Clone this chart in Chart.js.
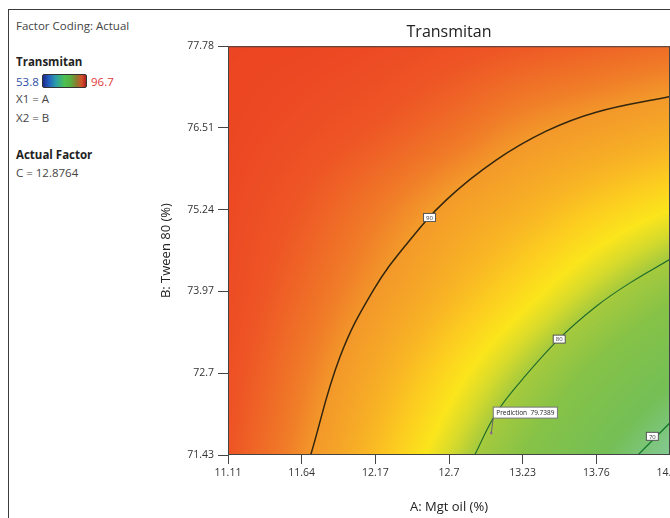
<!DOCTYPE html>
<html>
<head>
<meta charset="utf-8">
<script src="https://cdn.jsdelivr.net/npm/chart.js@4/dist/chart.umd.min.js"></script>
<style>
  html, body { margin: 0; padding: 0; background: #fff; }
  body { width: 670px; height: 518px; overflow: hidden; position: relative; font-family: "Open Sans", sans-serif; }
  #frame { position: absolute; left: 8px; top: 9px; width: 700px; height: 600px; border: 1.5px solid #3c3c3c; box-sizing: border-box; }
  #wrap { position: absolute; left: 0; top: 0; width: 700px; height: 518px; }
  .side { position: absolute; left: 16px; font-size: 11.5px; color: #444; line-height: 16px; white-space: nowrap; }
  .side b { color: #222; }
  #bar { position: absolute; left: 42px; top: 74px; width: 45px; height: 14px; border: 1px solid #333; border-radius: 2px; box-sizing: border-box;
    background: linear-gradient(to right, #1a2a8c, #2460c0 14%, #2a9ea8 30%, #4cc050 50%, #58b040 64%, #8a7a30 78%, #d45028 90%, #a82020); }
</style>
</head>
<body>
<div id="frame"></div>
<div class="side" style="top:18px">Factor Coding: Actual</div>
<div class="side" style="top:54px"><b>Transmitan</b></div>
<div class="side" style="top:74px;color:#2d4fa6">53.8</div>
<div id="bar"></div>
<div class="side" style="top:74px;left:91px;color:#e23a3a">96.7</div>
<div class="side" style="top:91px">X1 = A</div>
<div class="side" style="top:110px">X2 = B</div>
<div class="side" style="top:147px"><b>Actual Factor</b></div>
<div class="side" style="top:165px">C = 12.8764</div>
<div id="wrap"><canvas id="contour"></canvas></div>
<script>
// axis ticks (A: Mgt oil, B: Tween 80)
var xTicks = [11.11, 11.64, 12.17, 12.7, 13.23, 13.76, 14.29];
var xTickLabels = ["11.11", "11.64", "12.17", "12.7", "13.23", "13.76", "14.29"];
var yTicks = [71.43, 72.7, 73.97, 75.24, 76.51, 77.78];
var yTickLabels = ["71.43", "72.7", "73.97", "75.24", "76.51", "77.78"];

// Transmitan read at each tick crossing, one row per B tick (bottom to top)
var surfRow1 = [94.6, 90.6, 86.1, 81.5, 77.0, 72.5, 68.0];
var surfRow2 = [95.2, 91.7, 87.9, 84.0, 80.2, 76.4, 72.8];
var surfRow3 = [95.8, 93.0, 90.0, 86.9, 83.9, 80.8, 77.9];
var surfRow4 = [96.1, 94.2, 91.8, 89.3, 87.2, 85.0, 83.0];
var surfRow5 = [96.5, 95.5, 94.3, 92.6, 90.6, 89.3, 88.0];
var surfRow6 = [96.7, 96.5, 96.0, 95.2, 94.3, 93.5, 92.7];
var surface = [surfRow1, surfRow2, surfRow3, surfRow4, surfRow5, surfRow6];

// contour lines
var contour90 = [[11.705, 71.43], [11.916, 72.955], [12.156, 73.99], [12.40, 74.72], [12.685, 75.40],
  [13.039, 76.01], [13.399, 76.46], [13.759, 76.755], [14.29, 77.00]];
var contour80 = [[12.88, 71.41], [13.04, 72.08], [13.23, 72.61], [13.49, 73.23], [13.76, 73.74],
  [14.00, 74.10], [14.29, 74.47]];
var contour70 = [[14.05, 71.41], [14.29, 71.93]];
var contourLevels = ["90", "80", "70"];
var contourLabelAt = [[12.56, 75.12], [13.493, 73.23], [14.163, 71.72]];

// flagged prediction
var predictionPoint = [13.004, 71.77];
var predictionText = "Prediction  79.7389";

var colorStops = [
  [53.8, "#2b3a9e"], [60, "#2f8fc9"], [66, "#7ecba0"], [69, "#80c786"], [72, "#74bf56"],
  [77, "#86c247"], [80, "#a6ca3d"], [81.5, "#d6da2c"], [83, "#fbe51c"], [85, "#fccc20"],
  [86.5, "#f9b824"], [88, "#f6a927"], [90, "#f3982a"], [91.5, "#f07d28"], [94.5, "#ee5525"],
  [96.7, "#ec4523"]
];

function hexToRgb(h) {
  return [parseInt(h.substr(1, 2), 16), parseInt(h.substr(3, 2), 16), parseInt(h.substr(5, 2), 16)];
}
var stopRgb = colorStops.map(function (s) { return [s[0], hexToRgb(s[1])]; });

function colorFor(v) {
  if (v <= stopRgb[0][0]) return stopRgb[0][1];
  for (var i = 1; i < stopRgb.length; i++) {
    if (v <= stopRgb[i][0]) {
      var a = stopRgb[i - 1], b = stopRgb[i];
      var t = (v - a[0]) / (b[0] - a[0]);
      return [a[1][0] + (b[1][0] - a[1][0]) * t, a[1][1] + (b[1][1] - a[1][1]) * t, a[1][2] + (b[1][2] - a[1][2]) * t];
    }
  }
  return stopRgb[stopRgb.length - 1][1];
}

function pick(arr, i) {
  var n = arr.length;
  if (i < 0) return 2 * arr[0] - arr[1];
  if (i >= n) return 2 * arr[n - 1] - arr[n - 2];
  return arr[i];
}

function cubic(arr, u) {
  var i = Math.floor(u);
  if (i > arr.length - 2) i = arr.length - 2;
  if (i < 0) i = 0;
  var t = u - i;
  var p0 = pick(arr, i - 1), p1 = pick(arr, i), p2 = pick(arr, i + 1), p3 = pick(arr, i + 2);
  return 0.5 * ((2 * p1) + (-p0 + p2) * t + (2 * p0 - 5 * p1 + 4 * p2 - p3) * t * t + (-p0 + 3 * p1 - 3 * p2 + p3) * t * t * t);
}

function gridIndex(ticks, v) {
  var step = (ticks[ticks.length - 1] - ticks[0]) / (ticks.length - 1);
  return (v - ticks[0]) / step;
}

var surfacePlugin = {
  id: "surface",
  beforeDatasetsDraw: function (chart) {
    var area = chart.chartArea;
    var xs = chart.scales.x, ys = chart.scales.y;
    var w = Math.round(area.right - area.left), h = Math.round(area.bottom - area.top);
    var ctx = chart.ctx;
    var img = ctx.createImageData(w, h);
    for (var r = 0; r < h; r++) {
      var yv = ys.getValueForPixel(area.top + r + 0.5);
      var vu = gridIndex(yTicks, yv);
      var rowVals = [];
      for (var c = 0; c < xTicks.length; c++) {
        var col = surface.map(function (row) { return row[c]; });
        rowVals.push(cubic(col, vu));
      }
      for (var px = 0; px < w; px++) {
        var xv = xs.getValueForPixel(area.left + px + 0.5);
        var val = cubic(rowVals, gridIndex(xTicks, xv));
        var rgb = colorFor(val);
        var k = (r * w + px) * 4;
        img.data[k] = rgb[0];
        img.data[k + 1] = rgb[1];
        img.data[k + 2] = rgb[2];
        img.data[k + 3] = 255;
      }
    }
    ctx.putImageData(img, Math.round(area.left), Math.round(area.top));
  },
  afterDatasetsDraw: function (chart) {
    var ctx = chart.ctx;
    var xs = chart.scales.x, ys = chart.scales.y;
    var area = chart.chartArea;
    ctx.save();
    ctx.beginPath();
    ctx.rect(area.left, area.top, area.right - area.left, area.bottom - area.top);
    ctx.clip();

    // contour level tags
    ctx.font = "6px 'Open Sans', sans-serif";
    ctx.textAlign = "center";
    ctx.textBaseline = "middle";
    for (var i = 0; i < contourLabelAt.length; i++) {
      var lx = xs.getPixelForValue(contourLabelAt[i][0]);
      var ly = ys.getPixelForValue(contourLabelAt[i][1]);
      ctx.fillStyle = "#fff";
      ctx.strokeStyle = "#555";
      ctx.lineWidth = 1;
      ctx.fillRect(lx - 6, ly - 4, 12, 8);
      ctx.strokeRect(lx - 6, ly - 4, 12, 8);
      ctx.fillStyle = "#333";
      ctx.fillText(contourLevels[i], lx, ly + 0.5);
    }

    // prediction flag
    var ppx = xs.getPixelForValue(predictionPoint[0]);
    var ppy = ys.getPixelForValue(predictionPoint[1]);
    ctx.strokeStyle = "#666";
    ctx.lineWidth = 1;
    ctx.beginPath();
    ctx.moveTo(ppx, ppy);
    ctx.lineTo(ppx + 2, ppy - 15);
    ctx.stroke();
    ctx.fillStyle = "#8a6a8a";
    ctx.beginPath();
    ctx.arc(ppx, ppy, 1.3, 0, Math.PI * 2);
    ctx.fill();
    ctx.font = "6.5px 'Open Sans', sans-serif";
    ctx.textAlign = "left";
    var tw = ctx.measureText(predictionText).width;
    ctx.fillStyle = "#fff";
    ctx.strokeStyle = "#777";
    ctx.fillRect(ppx + 2, ppy - 26, tw + 6, 11);
    ctx.strokeRect(ppx + 2, ppy - 26, tw + 6, 11);
    ctx.fillStyle = "#222";
    ctx.fillText(predictionText, ppx + 5, ppy - 20);
    ctx.restore();

    ctx.strokeStyle = "#444";
    ctx.lineWidth = 1;
    ctx.strokeRect(area.left + 0.5, area.top + 0.5, area.right - area.left - 1, area.bottom - area.top - 1);
  }
};

function toPoints(list) {
  return list.map(function (p) { return { x: p[0], y: p[1] }; });
}

function lineSet(list, color, width) {
  return {
    data: toPoints(list),
    borderColor: color,
    borderWidth: width,
    pointRadius: 0,
    fill: false,
    tension: 0.4
  };
}

var tickFont = { family: "'Open Sans', sans-serif", size: 10.5 };

new Chart(document.getElementById("contour").getContext("2d"), {
  type: "line",
  data: {
    datasets: [
      lineSet(contour90, "#33260f", 1.5),
      lineSet(contour80, "#1d6a2a", 1.1),
      lineSet(contour70, "#15782f", 1.3)
    ]
  },
  options: {
    responsive: true,
    maintainAspectRatio: false,
    animation: false,
    events: [],
    layout: { padding: { left: 150, top: 0, right: 30, bottom: 0 } },
    plugins: {
      legend: { display: false },
      tooltip: { enabled: false },
      title: {
        display: true,
        text: "Transmitan",
        fullSize: false,
        color: "#222",
        font: { family: "'Open Sans', sans-serif", size: 16, weight: "normal" },
        padding: { top: 23, bottom: 4 }
      }
    },
    scales: {
      x: {
        type: "linear",
        min: xTicks[0],
        max: xTicks[xTicks.length - 1],
        afterBuildTicks: function (s) { s.ticks = xTicks.map(function (v) { return { value: v }; }); },
        afterFit: function (s) { s.height = 63; },
        grid: { drawOnChartArea: false, drawTicks: true, tickLength: 9, color: "#444", tickColor: "#444" },
        border: { display: false },
        ticks: {
          color: "#333",
          font: tickFont,
          padding: 3,
          maxRotation: 0,
          autoSkip: false,
          callback: function (v, i) { return xTickLabels[i]; }
        },
        title: {
          display: true,
          text: "A: Mgt oil (%)",
          color: "#222",
          font: { family: "'Open Sans', sans-serif", size: 13 },
          padding: { top: 0, bottom: 3 }
        }
      },
      y: {
        type: "linear",
        min: yTicks[0],
        max: yTicks[yTicks.length - 1],
        afterBuildTicks: function (s) { s.ticks = yTicks.map(function (v) { return { value: v }; }); },
        afterFit: function (s) { s.width = 78; },
        grid: { drawOnChartArea: false, drawTicks: true, tickLength: 10, color: "#444", tickColor: "#444" },
        border: { display: false },
        ticks: {
          color: "#333",
          font: tickFont,
          padding: 4,
          autoSkip: false,
          callback: function (v, i) { return yTickLabels[i]; }
        },
        title: {
          display: true,
          text: "B: Tween 80 (%)",
          color: "#222",
          font: { family: "'Open Sans', sans-serif", size: 13 },
          padding: { top: 8, bottom: 0 }
        }
      }
    }
  },
  plugins: [surfacePlugin]
});
</script>
</body>
</html>
